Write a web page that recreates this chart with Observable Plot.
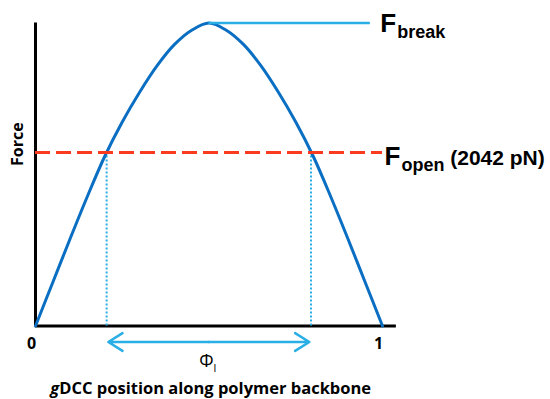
<!DOCTYPE html>
<html>
<head>
<meta charset="utf-8">
<script src="https://cdn.jsdelivr.net/npm/d3@7"></script>
<script src="https://cdn.jsdelivr.net/npm/@observablehq/plot@0.6"></script>
<style>
  html, body { margin: 0; padding: 0; background: #fff; }
  #chart svg { display: block; }
</style>
</head>
<body>
<div id="chart"></div>
<script>
// Position along backbone (fraction) and force profile (pN)
const position = [0, 0.05, 0.10, 0.15, 0.20, 0.25, 0.30, 0.35, 0.40, 0.45, 0.50, 0.55, 0.60, 0.65, 0.70, 0.75, 0.80, 0.85, 0.90, 0.95, 1.00];
const force    = [0, 515, 1030, 1530, 2000, 2400, 2750, 3060, 3310, 3480, 3565, 3480, 3310, 3060, 2750, 2400, 2000, 1530, 1030, 515, 0];

const F_OPEN = 2042;          // pN
const F_BREAK = 3565;         // pN (peak)
const PEAK_POS = 0.50;
const openCrossings = [0.205, 0.794];
const xTickValues = [0, 1];
const xTickLabels = ["0", "1"];
const xAxisEnd = 1.04;
const breakLineEnd = 0.965;

const curveData = position.map((p, i) => ({p, f: force[i]}));
const ticks = xTickValues.map((v, i) => ({v, label: xTickLabels[i]}));
const phiMid = (openCrossings[0] + openCrossings[1]) / 2;

const lightBlue = "#2aaee6";
const arial = "'Liberation Sans', Arial, sans-serif";
const sans = "'Open Sans', sans-serif";

const plot = Plot.plot({
  width: 550,
  height: 399,
  marginLeft: 35,
  marginRight: 168,
  marginTop: 22.5,
  marginBottom: 73.5,
  x: {domain: [0, 1], axis: null},
  y: {domain: [0, F_BREAK], axis: null},
  marks: [
    // axes
    Plot.ruleY([0], {x1: 0, x2: xAxisEnd, stroke: "black", strokeWidth: 3}),
    Plot.ruleX([0], {y1: 0, y2: F_BREAK, stroke: "black", strokeWidth: 3}),
    // dotted verticals
    Plot.ruleX(openCrossings, {y1: 0, y2: F_OPEN, stroke: lightBlue, strokeWidth: 2, strokeDasharray: "2,2"}),
    // force curve
    Plot.line(curveData, {x: "p", y: "f", stroke: "#0a6fc2", strokeWidth: 3, curve: "catmull-rom"}),
    // F_open dashed
    Plot.ruleY([F_OPEN], {x1: 0, x2: 1, stroke: "#fb3b20", strokeWidth: 3, strokeDasharray: "15,6"}),
    // F_break line
    Plot.ruleY([F_BREAK], {x1: PEAK_POS, x2: breakLineEnd, stroke: lightBlue, strokeWidth: 2.5}),
    // double arrow Phi
    Plot.arrow([{a: phiMid, b: openCrossings[0] + 0.005}, {a: phiMid, b: openCrossings[1] - 0.005}], {
      x1: "a", x2: "b", y1: () => 0, y2: () => 0, dy: 16,
      stroke: lightBlue, strokeWidth: 2.5, headLength: 10, headAngle: 64
    }),
    // tick labels
    Plot.text(ticks, {x: "v", y: () => 0, text: "label", dy: 18, dx: -4, fontSize: 16, fontWeight: 700, fontFamily: sans, fill: "black"}),
    // Phi label
    Plot.text(["Φl"], {x: () => phiMid, y: () => 0, dy: 35, dx: -1, fontSize: 18, fontFamily: sans, fill: "black"}),
    // axis titles
    Plot.text(["gDCC position along polymer backbone"], {x: () => 0.505, y: () => 0, dy: 63, fontSize: 16.5, fontWeight: 700, fontFamily: sans, fill: "black"}),
    Plot.text(["Force"], {x: () => 0, y: () => F_BREAK * 0.6, dx: -18, rotate: -90, fontSize: 16, fontWeight: 700, fontFamily: sans, fill: "black"}),
    // right labels
    Plot.text(["Fbreak"], {x: () => breakLineEnd, y: () => F_BREAK, dx: 10, dy: 1, textAnchor: "start", fontSize: 26, fontWeight: 700, fontFamily: arial, fill: "black"}),
    Plot.text(["Fopen (2042 pN)"], {x: () => 1, y: () => F_OPEN, dx: 2, dy: 4, textAnchor: "start", fontSize: 26, fontWeight: 700, fontFamily: arial, fill: "black"})
  ]
});

// rich text: subscripts and italics
function richify(svg) {
  const ns = "http://www.w3.org/2000/svg";
  const mk = (txt, attrs) => {
    const ts = document.createElementNS(ns, "tspan");
    ts.textContent = txt;
    for (const k in attrs) ts.setAttribute(k, attrs[k]);
    return ts;
  };
  svg.querySelectorAll("text").forEach(t => {
    const s = t.textContent;
    if (s === "Fbreak") {
      t.textContent = "";
      t.appendChild(mk("F", {}));
      t.appendChild(mk("break", {"font-size": 18, dy: 6, dx: 1}));
    } else if (s === "Fopen (2042 pN)") {
      t.textContent = "";
      t.appendChild(mk("F", {}));
      t.appendChild(mk("open", {"font-size": 18, dy: 6, dx: 1}));
      t.appendChild(mk(" (2042 pN)", {"font-size": 21, dy: -6}));
    } else if (s === "gDCC position along polymer backbone") {
      t.textContent = "";
      t.appendChild(mk("g", {"font-style": "italic"}));
      t.appendChild(mk("DCC position along polymer backbone", {}));
    } else if (s === "Φl") {
      t.textContent = "";
      t.appendChild(mk("Φ", {}));
      t.appendChild(mk("l", {"font-size": 11, dy: 5}));
    }
  });
}
richify(plot);
document.getElementById("chart").appendChild(plot);
</script>
</body>
</html>
